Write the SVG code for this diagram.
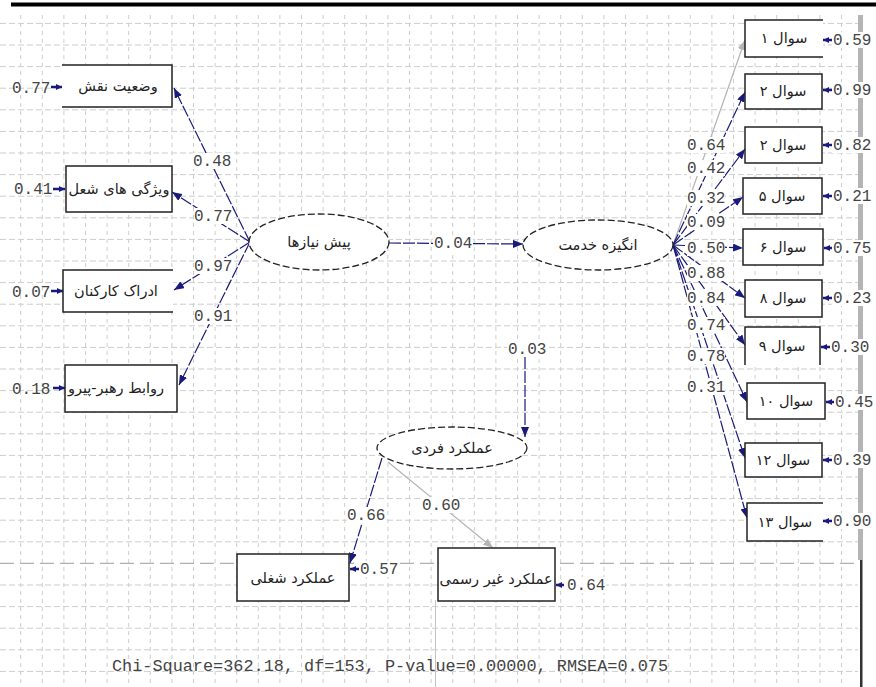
<svg xmlns="http://www.w3.org/2000/svg" width="876" height="687" viewBox="0 0 876 687">
<defs>
<marker id="ah" markerWidth="10" markerHeight="8" refX="10" refY="4" orient="auto" markerUnits="userSpaceOnUse"><path d="M0,0 L10,4 L0,8 z" fill="#1a1a7a"/></marker>
<marker id="ahg" markerWidth="10" markerHeight="8" refX="10" refY="4" orient="auto" markerUnits="userSpaceOnUse"><path d="M0,0 L10,4 L0,8 z" fill="#b4b4b4"/></marker>
<marker id="ahs" markerWidth="6" markerHeight="6" refX="6" refY="3" orient="auto" markerUnits="userSpaceOnUse"><path d="M0,0 L6,3 L0,6 z" fill="#1a1a7a"/></marker>
<style>
.grid{stroke:#cdcdcd;stroke-width:1;fill:none}
.gv{stroke-dasharray:4 4}
.gh{stroke-dasharray:6 3}
.ln{stroke:#1a1a7a;stroke-width:1.2;fill:none;stroke-dasharray:12 2;marker-end:url(#ah)}
.lg{stroke:#b4b4b4;stroke-width:1.2;fill:none;marker-end:url(#ahg)}
.er{stroke:#1a1a7a;stroke-width:2.5;fill:none;marker-end:url(#ahs)}
.bx{fill:#ffffff;stroke:#222;stroke-width:1.5}
.bo{fill:none;stroke:#222;stroke-width:1.5}
.bf{fill:#ffffff;stroke:none}
.el{fill:#ffffff;stroke:#222;stroke-width:1.3;stroke-dasharray:7 3}
.fa{font-family:"DejaVu Sans","Noto Sans",sans-serif;font-size:14.5px;fill:#222;text-anchor:middle}
.nm{font-family:"Liberation Mono","DejaVu Sans Mono",monospace;font-size:16px;fill:#444}
.bg{fill:#ffffff}
</style>
</defs>
<rect x="0" y="0" width="876" height="687" fill="#ffffff"/>
<g id="grid">
<path class="grid gv" d="M20.7 15V687M42.3 15V687M63.9 15V687M85.5 15V687M107.1 15V687M128.7 15V687M150.3 15V687M171.9 15V687M193.5 15V687M215.1 15V687M236.7 15V687M258.3 15V687M279.9 15V687M301.5 15V687M323.1 15V687M344.7 15V687M366.3 15V687M387.9 15V687M409.5 15V687M431.1 15V687M452.7 15V687M474.3 15V687M495.9 15V687M517.5 15V687M539.1 15V687M560.7 15V687M582.3 15V687M603.9 15V687M625.5 15V687M647.1 15V687M668.7 15V687M690.3 15V687M711.9 15V687M733.5 15V687M755.1 15V687M776.7 15V687M798.3 15V687M819.9 15V687M841.5 15V687"/>
<path class="grid gh" d="M0 23.4H858M0 45H858M0 66.6H858M0 88.2H858M0 109.8H858M0 131.4H858M0 153H858M0 174.6H858M0 196.2H858M0 217.8H858M0 239.4H858M0 261H858M0 282.6H858M0 304.2H858M0 325.8H858M0 347.4H858M0 369H858M0 390.6H858M0 412.2H858M0 433.8H858M0 455.4H858M0 477H858M0 498.6H858M0 520.2H858M0 541.8H858M0 585H858M0 606.6H858M0 628.2H858M0 649.8H858M0 671.4H858"/>
<path d="M0 563.4H858" stroke="#b0b0b0" stroke-width="1.2" stroke-dasharray="14 6" fill="none"/>
<path d="M435.5 600V687" stroke="#c4c4c4" stroke-width="1" fill="none"/>
<rect x="11" y="2.5" width="865" height="4" fill="#000"/>
<rect x="858" y="15" width="5" height="545" fill="#b4b4b4"/>
<rect x="860" y="560" width="2.5" height="127" fill="#333"/>
</g>
<g id="connectors">
<path class="ln" d="M250 242L174 88"/>
<path class="ln" d="M250 242L172 192"/>
<path class="ln" d="M250 242L174 290"/>
<path class="ln" d="M250 242L179 385"/>
<path class="ln" d="M389 243L523 244"/>
<path class="lg" d="M673 245L745 40"/>
<path class="ln" d="M673 245L745 92"/>
<path class="ln" d="M673 245L745 149"/>
<path class="ln" d="M673 245L743 197"/>
<path class="ln" d="M673 245L743 248"/>
<path class="ln" d="M673 245L745 298"/>
<path class="ln" d="M673 245L745 345"/>
<path class="ln" d="M673 245L747 402"/>
<path class="ln" d="M673 245L745 458"/>
<path class="ln" d="M673 245L747 518"/>
<path class="ln" d="M525 357L525 437"/>
<path class="ln" d="M382 458L350 563"/>
<path class="lg" d="M388 462L493 548"/>
<path class="er" d="M51 87H62"/>
<path class="er" d="M53 189H65"/>
<path class="er" d="M51 291H63"/>
<path class="er" d="M53 388H65"/>
<path class="er" d="M832 40H823"/>
<path class="er" d="M832 90H823"/>
<path class="er" d="M832 145H823"/>
<path class="er" d="M832 196H823"/>
<path class="er" d="M832 248H824"/>
<path class="er" d="M832 298H823"/>
<path class="er" d="M830 347H821"/>
<path class="er" d="M834 402H826"/>
<path class="er" d="M832 460H823"/>
<path class="er" d="M832 521H823"/>
<path class="er" d="M359 569H350"/>
<path class="er" d="M564 585H556"/>
</g>
<g id="labels">
<rect class="bg" x="193" y="153" width="38" height="16"/><text class="nm" x="193" y="166">0.48</text>
<rect class="bg" x="194" y="208" width="38" height="16"/><text class="nm" x="194" y="221">0.77</text>
<rect class="bg" x="194" y="258" width="38" height="16"/><text class="nm" x="194" y="271">0.97</text>
<rect class="bg" x="194" y="308" width="38" height="16"/><text class="nm" x="194" y="321">0.91</text>
<rect class="bg" x="433" y="235" width="40" height="16"/><text class="nm" x="434" y="248">0.04</text>
<rect class="bg" x="687" y="137" width="38" height="16"/><text class="nm" x="687" y="150">0.64</text>
<rect class="bg" x="687" y="160" width="38" height="16"/><text class="nm" x="687" y="173">0.42</text>
<rect class="bg" x="687" y="190" width="38" height="16"/><text class="nm" x="687" y="203">0.32</text>
<rect class="bg" x="687" y="214" width="38" height="16"/><text class="nm" x="687" y="227">0.09</text>
<rect class="bg" x="687" y="240" width="38" height="16"/><text class="nm" x="687" y="253">0.50</text>
<rect class="bg" x="687" y="265" width="38" height="16"/><text class="nm" x="687" y="278">0.88</text>
<rect class="bg" x="687" y="290" width="38" height="16"/><text class="nm" x="687" y="303">0.84</text>
<rect class="bg" x="687" y="317" width="38" height="16"/><text class="nm" x="687" y="330">0.74</text>
<rect class="bg" x="687" y="348" width="38" height="16"/><text class="nm" x="687" y="361">0.78</text>
<rect class="bg" x="687" y="379" width="38" height="16"/><text class="nm" x="687" y="392">0.31</text>
<rect class="bg" x="507" y="341" width="40" height="16"/><text class="nm" x="508" y="354">0.03</text>
<rect class="bg" x="347" y="507" width="38" height="16"/><text class="nm" x="347" y="520">0.66</text>
<rect class="bg" x="422" y="497" width="38" height="16"/><text class="nm" x="422" y="510">0.60</text>
<text class="nm" x="12" y="93">0.77</text>
<text class="nm" x="14" y="194">0.41</text>
<text class="nm" x="12" y="297">0.07</text>
<text class="nm" x="12" y="394">0.18</text>
<rect class="bg" x="832" y="32" width="42" height="16"/><text class="nm" x="833" y="45">0.59</text>
<rect class="bg" x="832" y="82" width="42" height="16"/><text class="nm" x="833" y="95">0.99</text>
<rect class="bg" x="832" y="137" width="42" height="16"/><text class="nm" x="833" y="150">0.82</text>
<rect class="bg" x="832" y="188" width="42" height="16"/><text class="nm" x="833" y="201">0.21</text>
<rect class="bg" x="832" y="240" width="42" height="16"/><text class="nm" x="833" y="253">0.75</text>
<rect class="bg" x="832" y="290" width="42" height="16"/><text class="nm" x="833" y="303">0.23</text>
<rect class="bg" x="830" y="339" width="42" height="16"/><text class="nm" x="831" y="352">0.30</text>
<rect class="bg" x="834" y="394" width="42" height="16"/><text class="nm" x="835" y="407">0.45</text>
<rect class="bg" x="832" y="452" width="42" height="16"/><text class="nm" x="833" y="465">0.39</text>
<rect class="bg" x="832" y="513" width="42" height="16"/><text class="nm" x="833" y="526">0.90</text>
<rect class="bg" x="360" y="561" width="40" height="16"/><text class="nm" x="360" y="574">0.57</text>
<rect class="bg" x="566" y="577" width="40" height="16"/><text class="nm" x="567" y="590">0.64</text>
<text class="nm" x="112" y="671" textLength="556" lengthAdjust="spacingAndGlyphs">Chi-Square=362.18, df=153, P-value=0.00000, RMSEA=0.075</text>
</g>
<g id="n-role">
<rect class="bf" x="62" y="65" width="110" height="42"/>
<path class="bo" d="M62 65H172V107H62"/>
<text class="fa" x="118" y="91" direction="rtl">وضعیت نقش</text>
</g>
<g id="n-job">
<rect class="bx" x="66" y="166" width="106" height="46"/>
<text class="fa" x="119" y="194" direction="rtl">ویژگی های شعل</text>
</g>
<g id="n-perc">
<rect class="bf" x="63" y="270" width="110" height="42"/>
<path class="bo" d="M173 270H63V312H173"/>
<text class="fa" x="116" y="296" direction="rtl">ادراک کارکنان</text>
</g>
<g id="n-lead">
<rect class="bx" x="65" y="365" width="112" height="47"/>
<text class="fa" x="116" y="393" direction="rtl">روابط رهبر-پیرو</text>
</g>
<g id="n-pre">
<ellipse class="el" cx="319" cy="242" rx="70" ry="28"/>
<text class="fa" x="319" y="247" direction="rtl">پیش نیازها</text>
</g>
<g id="n-mot">
<ellipse class="el" cx="598" cy="245" rx="75" ry="25"/>
<text class="fa" x="598" y="250" direction="rtl">انگیزه خدمت</text>
</g>
<g id="n-ind">
<ellipse class="el" cx="452" cy="448" rx="75" ry="21"/>
<text class="fa" x="452" y="453" direction="rtl">عملکرد فردی</text>
</g>
<g id="n-jobperf">
<rect class="bx" x="237" y="554" width="112" height="47"/>
<text class="fa" x="293" y="583" direction="rtl">عملکرد شغلی</text>
</g>
<g id="n-inf">
<rect class="bx" x="438" y="548" width="117" height="53"/>
<text class="fa" x="496" y="584" direction="rtl">عملکرد غیر رسمی</text>
</g>
<g id="q1">
<rect class="bf" x="745" y="20" width="78" height="37"/>
<path class="bo" d="M823 20H745V57H823"/>
<text class="fa" x="784" y="43" direction="rtl">سوال ۱</text>
</g>
<g id="q2">
<rect class="bx" x="745" y="74" width="77" height="35"/>
<text class="fa" x="783" y="96" direction="rtl">سوال ۲</text>
</g>
<g id="q3">
<rect class="bx" x="745" y="127" width="77" height="36"/>
<text class="fa" x="783" y="150" direction="rtl">سوال ۲</text>
</g>
<g id="q5">
<rect class="bx" x="743" y="178" width="79" height="36"/>
<text class="fa" x="782" y="201" direction="rtl">سوال ۵</text>
</g>
<g id="q6">
<rect class="bx" x="743" y="229" width="80" height="36"/>
<text class="fa" x="783" y="252" direction="rtl">سوال ۶</text>
</g>
<g id="q8">
<rect class="bx" x="745" y="280" width="77" height="37"/>
<text class="fa" x="783" y="303" direction="rtl">سوال ۸</text>
</g>
<g id="q9">
<rect class="bf" x="745" y="327" width="75" height="38"/>
<path class="bo" d="M745 365V327H820V365"/>
<text class="fa" x="782" y="351" direction="rtl">سوال ۹</text>
</g>
<g id="q10">
<rect class="bx" x="747" y="383" width="78" height="36"/>
<text class="fa" x="786" y="406" direction="rtl">سوال ۱۰</text>
</g>
<g id="q12">
<rect class="bx" x="745" y="443" width="77" height="34"/>
<text class="fa" x="783" y="465" direction="rtl">سوال ۱۲</text>
</g>
<g id="q13">
<rect class="bf" x="747" y="503" width="76" height="38"/>
<path class="bo" d="M823 503H747V541H823"/>
<text class="fa" x="785" y="527" direction="rtl">سوال ۱۳</text>
</g>
</svg>
